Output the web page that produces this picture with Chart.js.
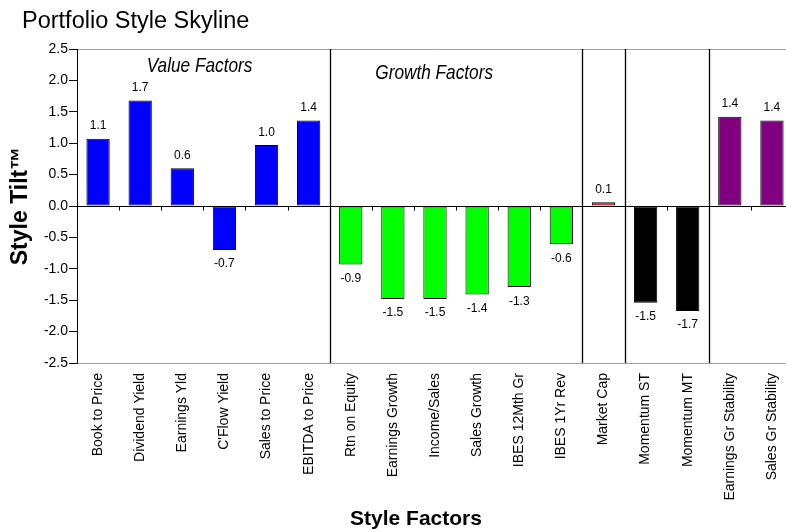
<!doctype html>
<html>

<head>
    <title>Portfolio Style Skyline</title>
    <script src="https://cdn.jsdelivr.net/npm/chart.js"></script>
</head>

<style>
    body {
        margin: 0;
        overflow: hidden;
        background-color: #fff;
        font-family: 'Liberation Sans', Arial, sans-serif;
    }

    .wrap {
        position: relative;
        width: 786px;
        height: 532px;
        overflow: hidden;
    }

    h1 {
        position: absolute;
        left: 22px;
        top: 9px;
        margin: 0;
        font-size: 23.5px;
        line-height: 23.5px;
        font-weight: normal;
        color: #000;
        white-space: nowrap;
    }

    .x-title {
        position: absolute;
        left: 316px;
        width: 200px;
        top: 507px;
        text-align: center;
        font-size: 21px;
        line-height: 21px;
        font-weight: bold;
        color: #000;
    }

    canvas {
        position: absolute;
        left: 0;
        top: 0;
    }
</style>

<body>
    <div class="wrap">
        <canvas id="skyline" width="793" height="532"></canvas>
        <h1>Portfolio Style Skyline</h1>
        <div class="x-title">Style Factors</div>
    </div>

    <script>
        var factors = [
            'Book to Price', 'Dividend Yield', 'Earnings Yld', "C'Flow Yield", 'Sales to Price', 'EBITDA to Price',
            'Rtn on Equity', 'Earnings Growth', 'Income/Sales', 'Sales Growth', 'IBES 12Mth Gr', 'IBES 1Yr Rev',
            'Market Cap',
            'Momentum ST', 'Momentum MT',
            'Earnings Gr Stability', 'Sales Gr Stability'
        ];
        var tilts = [
            1.07, 1.68, 0.6, -0.7, 0.97, 1.36,
            -0.93, -1.48, -1.48, -1.41, -1.29, -0.61,
            0.06,
            -1.54, -1.67,
            1.42, 1.36
        ];
        // how many factors belong to each group, left to right
        var groupSizes = [6, 6, 1, 2, 2];
        var groupColors = ['#0000ff', '#00ff00', '#ff0000', '#000000', '#800080'];
        var groupTitles = ['Value Factors', 'Growth Factors'];
        var yTicks = [-2.5, -2.0, -1.5, -1.0, -0.5, 0.0, 0.5, 1.0, 1.5, 2.0, 2.5];

        var barColors = [];
        groupSizes.forEach((n, g) => {
            for (var i = 0; i < n; i++) barColors.push(groupColors[g]);
        });

        // where the italic group captions sit, in category / value units
        var captionSpots = [
            { at: 2.41, level: 2.14 },
            { at: 7.98, level: 2.03 }
        ];

        var extras = {
            id: 'extras',
            afterDatasetsDraw(chart) {
                var ctx = chart.ctx;
                var area = chart.chartArea;
                var x = chart.scales.x;
                var y = chart.scales.y;
                var zero = Math.round(y.getPixelForValue(0)) + 0.5;
                var step = x.getPixelForValue(1) - x.getPixelForValue(0);
                var edgeAt = (i) => Math.round(x.getPixelForValue(i) - step / 2) + 0.5;

                ctx.save();
                ctx.strokeStyle = '#000';
                ctx.lineWidth = 1;

                // little ticks under the zero line
                for (var i = 1; i < factors.length; i++) {
                    ctx.beginPath();
                    ctx.moveTo(edgeAt(i), zero);
                    ctx.lineTo(edgeAt(i), zero + 4);
                    ctx.stroke();
                }

                // group dividers
                var edge = 0;
                ctx.lineWidth = 1.3;
                groupSizes.slice(0, -1).forEach(n => {
                    edge += n;
                    ctx.beginPath();
                    ctx.moveTo(edgeAt(edge), area.top);
                    ctx.lineTo(edgeAt(edge), area.bottom);
                    ctx.stroke();
                });

                // value labels
                ctx.fillStyle = '#000';
                ctx.textAlign = 'center';
                ctx.textBaseline = 'alphabetic';
                ctx.font = '12px "Liberation Sans", Arial, sans-serif';
                chart.getDatasetMeta(0).data.forEach((bar, i) => {
                    var v = tilts[i];
                    var ty = v >= 0 ? bar.y - 9.5 : bar.y + 17.5;
                    ctx.fillText(v.toFixed(1), bar.x, ty);
                });

                // group captions, set in a condensed italic
                ctx.font = 'italic 21px "Liberation Sans", Arial, sans-serif';
                groupTitles.forEach((t, g) => {
                    var spot = captionSpots[g];
                    var cx = x.getPixelForValue(0) + spot.at * step;
                    ctx.save();
                    ctx.translate(cx, y.getPixelForValue(spot.level));
                    ctx.scale(0.82, 1);
                    ctx.fillText(t, 0, 0);
                    ctx.restore();
                });
                ctx.restore();
            }
        };

        var skyline = new Chart(document.getElementById('skyline').getContext('2d'), {
            type: 'bar',
            data: {
                labels: factors,
                datasets: [{
                    data: tilts,
                    backgroundColor: barColors,
                    borderColor: '#000',
                    borderWidth: 1,
                    borderSkipped: false,
                    barPercentage: 0.553,
                    categoryPercentage: 1
                }]
            },
            options: {
                responsive: false,
                animation: false,
                devicePixelRatio: 1,
                layout: {
                    padding: { top: 49, left: 0, right: 0, bottom: 24 }
                },
                plugins: {
                    legend: { display: false },
                    tooltip: { enabled: false }
                },
                scales: {
                    x: {
                        grid: { display: false, drawTicks: false },
                        border: { display: false },
                        afterFit: (scale) => {
                            scale.height = 145;
                            scale.paddingLeft = 0;
                            scale.paddingRight = 0;
                        },
                        ticks: {
                            autoSkip: false,
                            minRotation: 90,
                            maxRotation: 90,
                            padding: 10,
                            color: '#000',
                            font: { family: '"Liberation Sans", Arial, sans-serif', size: 14 }
                        }
                    },
                    y: {
                        min: -2.5,
                        max: 2.5,
                        afterBuildTicks: (scale) => {
                            scale.ticks = yTicks.map(v => ({ value: v }));
                        },
                        afterFit: (scale) => {
                            scale.width = 77;
                            scale.paddingTop = 0;
                            scale.paddingBottom = 0;
                        },
                        grid: {
                            color: (c) => {
                                var v = c.tick ? c.tick.value : null;
                                if (v === 0) return '#000';
                                if (v === 2.5 || v === -2.5) return '#a0a0a0';
                                return 'rgba(0,0,0,0)';
                            },
                            lineWidth: 1,
                            tickColor: '#000',
                            tickLength: 8
                        },
                        border: { color: '#000', width: 1 },
                        ticks: {
                            padding: 1,
                            color: '#000',
                            font: { family: '"Liberation Sans", Arial, sans-serif', size: 14 },
                            callback: (v) => Number(v).toFixed(1)
                        },
                        title: {
                            display: true,
                            text: 'Style Tilt™',
                            color: '#000',
                            padding: { top: 7, bottom: 12 },
                            font: { family: '"Liberation Sans", Arial, sans-serif', size: 23, weight: 'bold' }
                        }
                    }
                }
            },
            plugins: [extras]
        });
    </script>
</body>

</html>
